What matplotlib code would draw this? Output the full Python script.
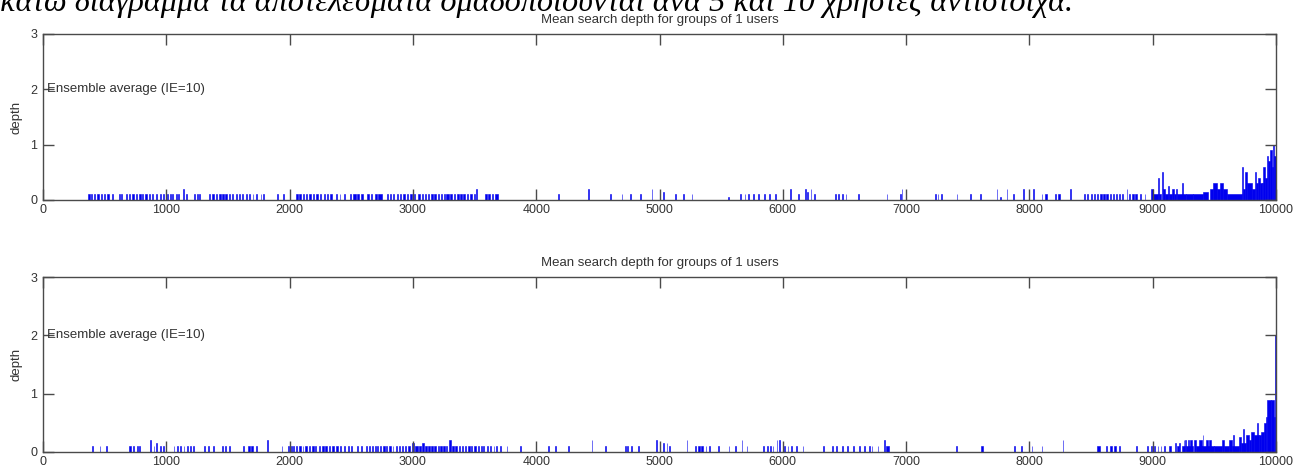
import matplotlib
matplotlib.use("Agg")
import matplotlib.pyplot as plt
import numpy as np

# ---------------- data ----------------
x_ticks = [0, 1000, 2000, 3000, 4000, 5000, 6000, 7000, 8000, 9000, 10000]
y_ticks = [0, 1, 2, 3]
title_txt = "Mean search depth for groups of 1 users"
note_txt = "Ensemble average (IE=10)"
ylabel_txt = "depth"
caption_txt = "κάτω διάγραμμα τα αποτελέσματα ομαδοποιούνται ανά 5 και 10 χρήστες αντίστοιχα."

# top panel: runs of nonzero depth (start, end, height)
top_runs = [
    (365, 380, .1), (392, 400, .1), (410, 425, .1), (440, 455, .1), (468, 480, .1), (495, 505, .1),
    (520, 535, .1), (560, 570, .1), (615, 622, .1), (635, 642, .1), (670, 680, .1), (700, 706, .1),
    (725, 735, .1), (752, 765, .1), (780, 795, .1), (805, 815, .1), (830, 842, .1), (860, 868, .1),
    (880, 895, .1), (915, 925, .1), (945, 958, .1), (970, 978, .1), (1005, 1012, .1), (1030, 1038, .1),
    (1050, 1058, .1), (1078, 1085, .1), (1098, 1104, .1), (1138, 1144, .2), (1160, 1166, .1),
    (1225, 1235, .1), (1250, 1258, .1), (1268, 1276, .1), (1345, 1358, .1), (1372, 1385, .1),
    (1400, 1410, .1), (1425, 1440, .1), (1455, 1465, .1), (1480, 1495, .1), (1510, 1520, .1),
    (1535, 1545, .1), (1565, 1575, .1), (1590, 1600, .1), (1615, 1625, .1), (1645, 1652, .1),
    (1668, 1676, .1), (1700, 1706, .1), (1730, 1736, .1), (1765, 1770, .1), (1785, 1790, .1),
    (1900, 1906, .1), (1945, 1951, .1),
    (2055, 2068, .1), (2080, 2092, .1), (2105, 2118, .1), (2132, 2140, .1), (2160, 2172, .1),
    (2190, 2200, .1), (2215, 2228, .1), (2245, 2255, .1), (2275, 2285, .1), (2300, 2310, .1),
    (2330, 2345, .1), (2380, 2388, .1), (2405, 2412, .1), (2440, 2450, .1), (2490, 2500, .1),
    (2515, 2535, .1), (2550, 2560, .1), (2580, 2592, .1), (2630, 2640, .1), (2660, 2668, .1),
    (2690, 2705, .1), (2720, 2750, .1), (2790, 2800, .1), (2815, 2822, .1), (2840, 2850, .1),
    (2870, 2880, .1), (2895, 2905, .1), (2920, 2935, .1), (2950, 2960, .1), (2975, 2990, .1),
    (3010, 3020, .1), (3040, 3055, .1), (3070, 3085, .1), (3095, 3105, .1), (3120, 3130, .1),
    (3150, 3160, .1), (3170, 3185, .1), (3200, 3212, .1), (3225, 3235, .1), (3250, 3258, .1),
    (3270, 3290, .1), (3300, 3315, .1), (3330, 3345, .1), (3360, 3372, .1), (3385, 3395, .1),
    (3410, 3425, .1), (3440, 3450, .1), (3465, 3480, .1), (3495, 3505, .1), (3515, 3521, .2),
    (3585, 3600, .1), (3612, 3625, .1), (3638, 3650, .1), (3665, 3690, .1),
    (4180, 4186, .1), (4423, 4429, .2), (4599, 4605, .1), (4693, 4699, .1), (4761, 4767, .1),
    (4842, 4848, .1), (4936, 4942, .2), (5031, 5037, .15), (5126, 5132, .1), (5193, 5199, .1),
    (5261, 5267, .1), (5558, 5564, .05), (5655, 5661, .1), (5690, 5696, .1), (5720, 5726, .1),
    (5760, 5766, .1), (5800, 5806, .1), (5850, 5856, .1), (5890, 5896, .1), (5935, 5941, .1),
    (6058, 6064, .2), (6126, 6132, .1), (6180, 6186, .2), (6200, 6206, .15), (6225, 6231, .2),
    (6255, 6261, .1), (6425, 6431, .1), (6450, 6456, .1), (6480, 6486, .1), (6510, 6516, .1),
    (6612, 6618, .1), (6842, 6848, .1), (6950, 6955, .1), (6964, 6970, .2),
    (7234, 7245, .1), (7255, 7262, .1), (7280, 7288, .1), (7410, 7416, .1), (7518, 7524, .1),
    (7599, 7605, .1), (7734, 7740, .2), (7761, 7767, .05), (7815, 7821, .2), (7869, 7875, .1),
    (7950, 7956, .2), (8032, 8038, .2), (8099, 8105, .1), (8130, 8140, .1), (8207, 8213, .1),
    (8230, 8248, .1), (8329, 8335, .2),
    (8442, 8448, .1), (8470, 8476, .1), (8500, 8506, .1), (8520, 8535, .1), (8550, 8560, .1),
    (8575, 8590, .1), (8600, 8612, .1), (8625, 8640, .1), (8655, 8665, .1), (8680, 8690, .1),
    (8705, 8712, .1), (8725, 8735, .1), (8755, 8762, .1), (8788, 8794, .2), (8810, 8818, .1),
    (8835, 8845, .1), (8860, 8870, .1), (8900, 8906, .1), (8935, 8941, .1),
    (8985, 9000, .2), (9000, 9040, .1), (9040, 9048, .4), (9048, 9070, .1), (9075, 9083, .5),
    (9083, 9100, .2), (9100, 9125, .1), (9125, 9133, .25), (9133, 9160, .1), (9160, 9170, .2),
    (9170, 9190, .1), (9190, 9200, .2), (9200, 9270, .1), (9235, 9243, .3), (9270, 9329, .1),
    (9329, 9410, .1), (9410, 9450, .15), (9464, 9490, .2), (9490, 9520, .3), (9520, 9545, .2),
    (9545, 9570, .3), (9570, 9599, .2), (9599, 9721, .1), (9721, 9729, .6), (9729, 9748, .2),
    (9748, 9761, .5), (9761, 9802, .3), (9802, 9829, .2), (9829, 9840, .5), (9840, 9856, .3),
    (9856, 9870, .4), (9870, 9883, .3), (9883, 9897, .3), (9897, 9910, .6), (9910, 9924, .4),
    (9924, 9937, .8), (9937, 9951, .7), (9951, 9964, .9), (9964, 9975, .6), (9975, 9985, 1.0),
    (9985, 10000, .8),
]

# bottom panel: runs of nonzero depth (start, end, height)
bot_runs = [
    (400, 408, .1), (460, 466, .1), (510, 516, .1), (700, 712, .1), (730, 738, .1), (760, 768, .1),
    (782, 790, .1), (868, 874, .2), (897, 903, .1), (920, 928, .15), (950, 956, .1), (970, 978, .1),
    (1060, 1066, .1), (1085, 1095, .1), (1110, 1118, .1), (1140, 1146, .1), (1165, 1172, .1),
    (1195, 1200, .1), (1218, 1224, .1), (1305, 1312, .1), (1340, 1346, .1), (1378, 1385, .1),
    (1450, 1458, .1), (1475, 1482, .1), (1510, 1518, .1), (1625, 1632, .1), (1660, 1675, .1),
    (1690, 1700, .1), (1725, 1735, .1), (1815, 1821, .2), (1935, 1942, .1),
    (1985, 1995, .1), (2010, 2016, .1), (2030, 2038, .1), (2050, 2060, .1), (2075, 2090, .1),
    (2105, 2112, .1), (2125, 2140, .1), (2155, 2165, .1), (2180, 2195, .1), (2210, 2218, .1),
    (2235, 2250, .1), (2265, 2275, .1), (2290, 2305, .1), (2320, 2330, .1), (2345, 2360, .1),
    (2380, 2390, .1), (2405, 2420, .1), (2440, 2450, .1), (2470, 2478, .1), (2500, 2506, .1),
    (2550, 2556, .1), (2580, 2586, .1), (2620, 2630, .1), (2645, 2652, .1), (2665, 2675, .1),
    (2690, 2698, .1), (2710, 2720, .1), (2735, 2742, .1), (2760, 2770, .1), (2785, 2792, .1),
    (2810, 2820, .1), (2835, 2842, .1), (2860, 2870, .1), (2885, 2892, .1), (2910, 2920, .1),
    (2935, 2942, .1), (2960, 2975, .1), (2990, 3010, .15), (3020, 3040, .1), (3050, 3062, .1),
    (3075, 3090, .15), (3100, 3115, .1), (3125, 3140, .1), (3150, 3165, .1), (3175, 3190, .1),
    (3200, 3210, .1), (3220, 3235, .1), (3245, 3260, .1), (3270, 3280, .1), (3295, 3305, .2),
    (3315, 3330, .1), (3345, 3360, .1), (3370, 3380, .1), (3395, 3410, .1), (3420, 3430, .1),
    (3445, 3460, .1), (3475, 3482, .1), (3495, 3510, .1), (3525, 3535, .1), (3550, 3558, .1),
    (3570, 3580, .1), (3600, 3606, .1), (3625, 3635, .1), (3655, 3661, .1), (3675, 3681, .1),
    (3707, 3713, .1), (3761, 3767, .1), (3869, 3875, .1),
    (4099, 4105, .1), (4153, 4159, .1), (4261, 4267, .1), (4450, 4456, .2), (4558, 4564, .1),
    (4720, 4726, .1), (4740, 4746, .1), (4768, 4774, .1), (4828, 4834, .1), (4975, 4981, .2),
    (5031, 5037, .15), (5058, 5064, .15), (5080, 5086, .1), (5220, 5226, .2), (5288, 5300, .1),
    (5315, 5325, .1), (5340, 5350, .1), (5375, 5381, .1), (5405, 5411, .1), (5477, 5483, .1),
    (5560, 5566, .1), (5612, 5618, .1), (5666, 5672, .2), (5707, 5713, .1), (5842, 5850, .1),
    (5870, 5880, .1), (5900, 5906, .1), (5918, 5924, .1), (5950, 5956, .2), (5970, 5977, .2),
    (6010, 6016, .1), (6040, 6046, .1), (6070, 6076, .1), (6110, 6116, .1), (6160, 6166, .1),
    (6330, 6336, .1), (6400, 6406, .1), (6430, 6436, .1), (6480, 6486, .1), (6520, 6526, .1),
    (6570, 6576, .1), (6620, 6626, .1), (6660, 6666, .1), (6700, 6706, .1), (6720, 6726, .1),
    (6770, 6776, .1), (6822, 6828, .2), (6840, 6860, .1),
    (7404, 7410, .1), (7610, 7620, .1), (7875, 7881, .1), (7932, 7938, .1), (8018, 8024, .1),
    (8099, 8105, .1), (8269, 8275, .2), (8550, 8572, .1), (8621, 8627, .1), (8655, 8670, .1),
    (8690, 8705, .1), (8730, 8736, .1), (8864, 8872, .1), (8956, 8962, .1), (8985, 8991, .1),
    (9010, 9020, .1), (9040, 9046, .1), (9065, 9071, .1), (9095, 9101, .1), (9135, 9145, .1),
    (9180, 9186, .15), (9200, 9210, .1), (9215, 9221, .15), (9235, 9260, .1), (9250, 9256, .2),
    (9262, 9268, .2), (9270, 9330, .1), (9285, 9291, .2), (9300, 9320, .2), (9335, 9350, .2),
    (9350, 9400, .1), (9378, 9400, .2), (9400, 9500, .1), (9405, 9411, .3), (9430, 9445, .2),
    (9460, 9475, .2), (9500, 9560, .1), (9560, 9580, .2), (9580, 9620, .1), (9620, 9640, .2),
    (9640, 9700, .1), (9650, 9656, .3), (9700, 9720, .25), (9720, 9760, .15), (9735, 9741, .4),
    (9760, 9780, .3), (9780, 9800, .2), (9800, 9820, .35), (9820, 9860, .3), (9845, 9851, .5),
    (9860, 9880, .3), (9880, 9905, .35), (9905, 9920, .5), (9920, 9930, .6), (9930, 9960, .9),
    (9960, 9985, .9), (9985, 9993, .6), (9993, 10000, 2.0),
]

# ---------------- drawing ----------------
plt.rcParams['font.family'] = ['Liberation Sans', 'DejaVu Sans']
W, H = 1305, 471
fig = plt.figure(figsize=(W / 100, H / 100), dpi=100)
fig.patch.set_facecolor('white')

axis_col = '#4a4a4a'
text_col = '#333333'
bar_col = '#0000ee'

panels = [
    (top_runs, [43 / W, 1 - 200 / H, 1233 / W, 166 / H]),
    (bot_runs, [43 / W, 1 - 452 / H, 1233 / W, 175 / H]),
]

for runs, rect in panels:
    ax = fig.add_axes(rect)
    arr = np.array(runs, dtype=float)
    s, e, h = arr[:, 0], arr[:, 1], arr[:, 2]
    ax.bar(s, h, width=e - s, align='edge', color=bar_col,
           edgecolor=bar_col, linewidth=0.4)
    ax.set_xlim(0, 10000)
    ax.set_ylim(0, 3)
    ax.set_xticks(x_ticks)
    ax.set_yticks(y_ticks)
    ax.tick_params(direction='in', length=8, width=1, color=axis_col,
                   labelcolor=text_col, labelsize=9, top=True, right=True,
                   pad=4)
    ax.tick_params(axis='x', pad=3)
    for sp in ax.spines.values():
        sp.set_color(axis_col)
        sp.set_linewidth(1)
    ax.set_title(title_txt, fontsize=9.5, color=text_col, pad=8)
    ax.set_ylabel(ylabel_txt, fontsize=9.5, color=text_col, labelpad=6)
    ax.text(35, 2, note_txt, fontsize=9.5, color=text_col, va='center', ha='left')

fig.text(0.0, 1 - 11 / H, caption_txt, fontsize=23.2, style='italic',
         family=['Liberation Serif', 'DejaVu Serif'], color='black',
         ha='left', va='baseline')

fig.savefig('out.png', dpi=100, facecolor='white')
